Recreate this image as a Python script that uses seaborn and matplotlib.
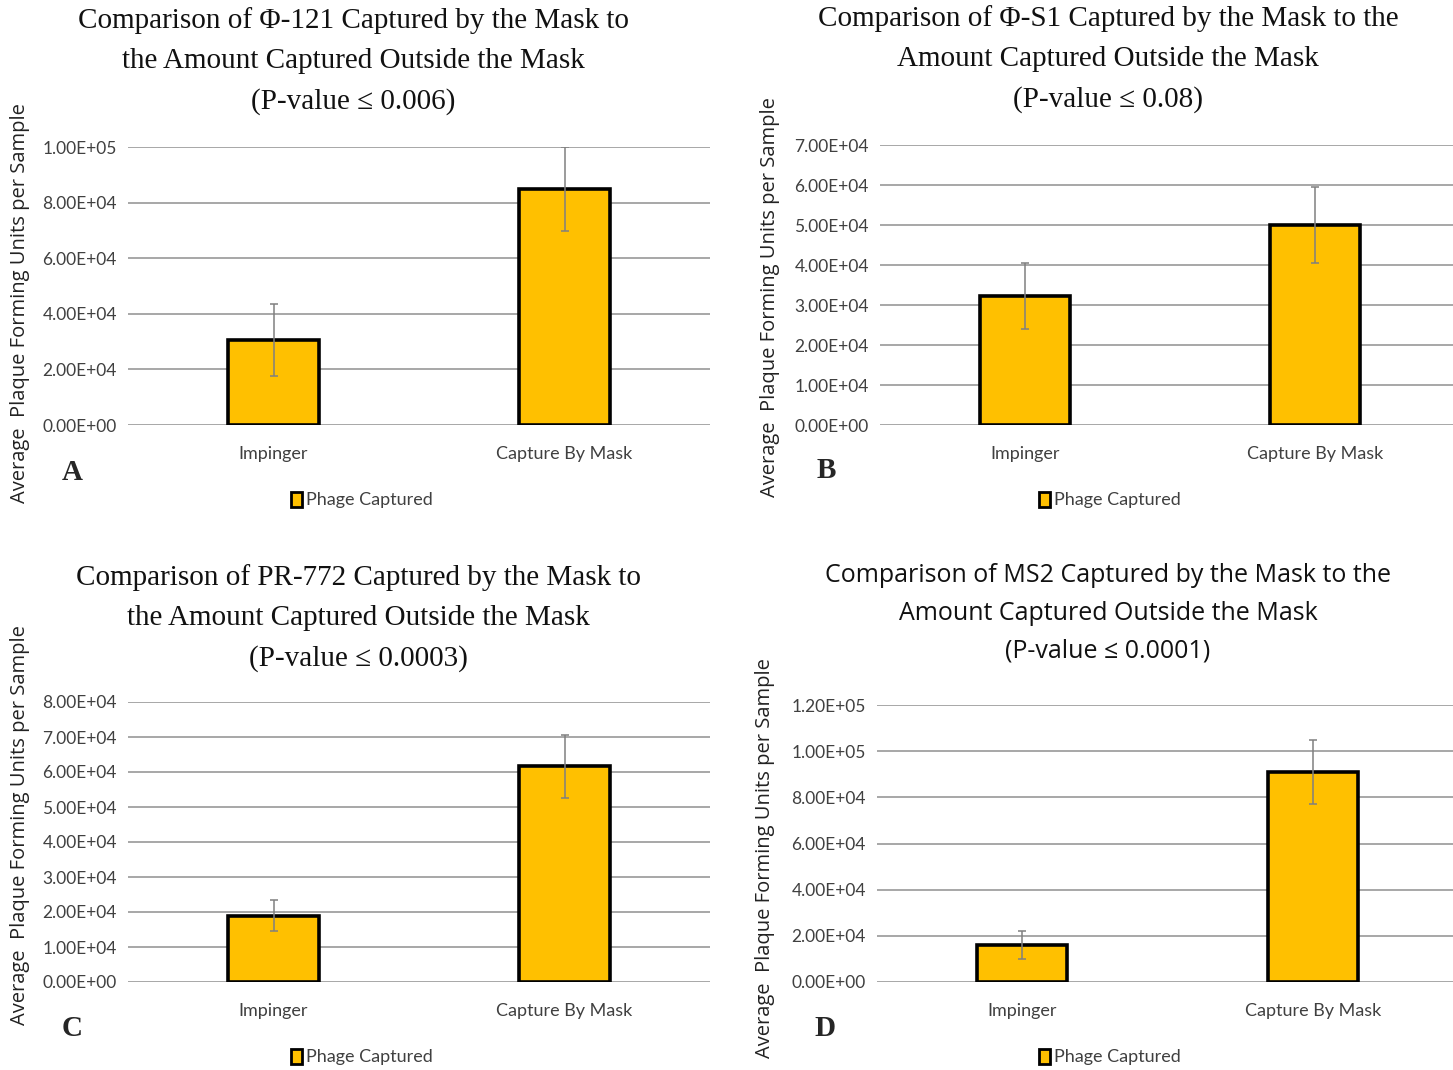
import numpy as np
import pandas as pd
import matplotlib
matplotlib.use("Agg")
import matplotlib.pyplot as plt
from matplotlib.ticker import FuncFormatter, MultipleLocator
import seaborn as sns

# values (plaque forming units per sample)
groups = ['Impinger', 'Capture By Mask']
phi121_mean = [30600, 84900]
phi121_err = [13000, 15000]
phiS1_mean = [32300, 50000]
phiS1_err = [8200, 9500]
pr772_mean = [19000, 61700]
pr772_err = [4300, 9000]
ms2_mean = [16000, 91000]
ms2_err = [6000, 14000]

titles = [
    'Comparison of \u03a6-121 Captured by the Mask to\nthe Amount Captured Outside the Mask\n(P-value \u2264 0.006)',
    'Comparison of \u03a6-S1 Captured by the Mask to the\nAmount Captured Outside the Mask\n(P-value \u2264 0.08)',
    'Comparison of PR-772 Captured by the Mask to\nthe Amount Captured Outside the Mask\n(P-value \u2264 0.0003)',
    'Comparison of MS2 Captured by the Mask to the\nAmount Captured Outside the Mask\n(P-value \u2264 0.0001)',
]
letters = ['A', 'B', 'C', 'D']
ymax = [1.0e5, 7.0e4, 8.0e4, 1.2e5]
ystep = [2.0e4, 1.0e4, 1.0e4, 2.0e4]

sns.set_style('white')
plt.rcParams['font.family'] = ['Lato', 'DejaVu Sans']

W, H = 1453, 1070
fig = plt.figure(figsize=(W / 100, H / 100), dpi=100)

def add_ax(left, top, right, bottom):
    return fig.add_axes([left / W, 1 - bottom / H, (right - left) / W, (bottom - top) / H])

# pixel boxes: axes, title top, ylabel centre, letter, legend centre
panels = [
    dict(box=(128, 147, 710, 425), tc=(353, 7), yl=(20, 303), lt=(72, 472), lg=(362, 500), serif=True),
    dict(box=(880, 145, 1460, 425), tc=(1108, 5), yl=(770, 297), lt=(826, 471), lg=(1110, 500), serif=True),
    dict(box=(128, 702, 710, 982), tc=(358, 564), yl=(20, 825), lt=(72, 1028), lg=(362, 1057), serif=True),
    dict(box=(877, 705, 1458, 982), tc=(1108, 563), yl=(765, 858), lt=(825, 1028), lg=(1110, 1057), serif=False),
]
means = [phi121_mean, phiS1_mean, pr772_mean, ms2_mean]
errs = [phi121_err, phiS1_err, pr772_err, ms2_err]

for i, p in enumerate(panels):
    ax = add_ax(*p['box'])
    df = pd.DataFrame({'group': groups, 'pfu': means[i], 'series': 'Phage Captured'})
    sns.barplot(data=df, x='group', y='pfu', hue='series', palette=['#FFC000'], saturation=1,
                width=0.31, edgecolor='black', linewidth=2.6, errorbar=None, ax=ax)
    xs = np.arange(len(groups))
    ax.errorbar(xs, means[i], yerr=errs[i], fmt='none', ecolor='#808080',
                elinewidth=1.1, capsize=3, capthick=1.1, zorder=5)
    ax.set_ylim(0, ymax[i])
    ax.set_xlim(-0.5, 1.5)
    ax.yaxis.set_major_locator(MultipleLocator(ystep[i]))
    ax.yaxis.set_major_formatter(FuncFormatter(lambda v, pos: f'{v:.2E}'))
    ax.set_axisbelow(True)
    ax.yaxis.grid(True, color='#a0a0a0', linewidth=1.3)
    ax.get_ygridlines()[0].set_color('#d9d9d9')
    for s in ax.spines.values():
        s.set_visible(False)
    ax.tick_params(axis='y', labelsize=12.5, labelcolor='#404040', length=0, pad=8)
    ax.tick_params(axis='x', labelsize=13, labelcolor='#404040', length=0, pad=15)
    ax.set_xlabel('')
    ax.set_ylabel('')
    sns.move_legend(ax, 'center', bbox_to_anchor=(p['lg'][0] / W, 1 - p['lg'][1] / H),
                    bbox_transform=fig.transFigure, frameon=False, fontsize=13,
                    handlelength=0.6, handleheight=0.9, handletextpad=0.2,
                    title=None, labelcolor='#404040')
    for h in ax.get_legend().legend_handles:
        h.set_linewidth(2)

    fam = ['Liberation Serif', 'DejaVu Serif'] if p['serif'] else ['Open Sans', 'DejaVu Sans']
    fig.text(p['tc'][0] / W, 1 - p['tc'][1] / H, titles[i], ha='center', va='top',
             fontsize=21 if p['serif'] else 18, family=fam,
             linespacing=1.7 if p['serif'] else 1.68, color='#111111')
    fig.text(p['yl'][0] / W, 1 - p['yl'][1] / H, 'Average  Plaque Forming Units per Sample',
             rotation=90, ha='center', va='center', fontsize=14.5, family=['Open Sans', 'DejaVu Sans'],
             color='#222222')
    fig.text(p['lt'][0] / W, 1 - p['lt'][1] / H, letters[i], ha='center', va='center',
             fontsize=21, fontweight='bold', family=['Liberation Serif', 'DejaVu Serif'])

fig.savefig('out.png', dpi=100)
